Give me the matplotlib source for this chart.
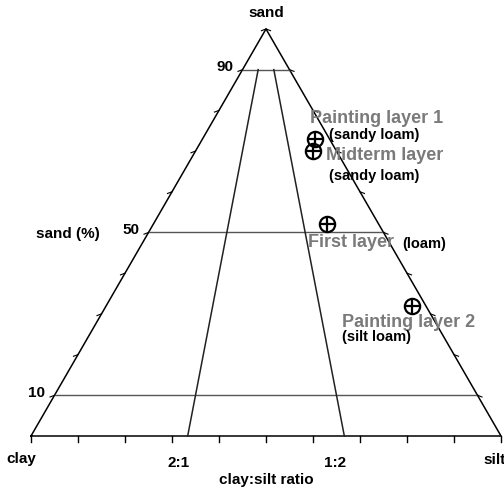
import numpy as np
import matplotlib
matplotlib.use("Agg")
import matplotlib.pyplot as plt

plt.rcParams['font.family'] = ['Liberation Sans', 'DejaVu Sans']

# sample compositions (%)
names = ["Painting layer 1", "Midterm layer", "First layer", "Painting layer 2"]
textures = ["(sandy loam)", "(sandy loam)", "(loam)", "(silt loam)"]
sand = [73, 70, 52, 32]
clay = [3, 5, 11, 3]
silt = [24, 25, 37, 65]

sand_lines = [90, 50, 10]
ratio_lines = [2 / 3, 1 / 3]   # clay fraction of clay+silt (2:1, 1:2)
ratio_labels = ["2:1", "1:2"]

H = np.sqrt(3) / 2


def xy(s, c, t):
    s, c, t = np.asarray(s) / 100, np.asarray(c) / 100, np.asarray(t) / 100
    return t + s / 2, s * H


fig = plt.figure(figsize=(5.04, 4.92), dpi=100)
ax = fig.add_axes([0, 0, 1, 1])
ax.set_xlim(-31 / 470, 473 / 470)
ax.set_ylim(-56 / 470, 436 / 470)
ax.axis('off')

# triangle outline
ax.plot([0, 0.5, 1, 0], [0, H, 0, 0], color='black', lw=1.1)

# sand level lines
for s in sand_lines:
    x0, y0 = xy(s, 100 - s, 0)
    x1, y1 = xy(s, 0, 100 - s)
    ax.plot([x0, x1], [y0, y1], color='#555555', lw=1.0)

# clay:silt ratio lines, from base up to sand 90
for r in ratio_lines:
    xb, yb = xy(0, r * 100, (1 - r) * 100)
    xt, yt = xy(90, r * 10, (1 - r) * 10)
    ax.plot([xb, xt], [yb, yt], color='#222222', lw=1.1)

# ticks
tl = 0.012
for k in range(0, 101, 10):
    ax.plot([k / 100, k / 100], [0, -tl], color='black', lw=1.0)
for k in range(10, 101, 10):
    xl, yl = xy(k, 100 - k, 0)
    ax.plot([xl, xl - tl * 0.8], [yl, yl - tl * 0.3], color='black', lw=0.8)
    xr, yr = xy(k, 0, 100 - k)
    ax.plot([xr, xr + tl * 0.8], [yr, yr - tl * 0.3], color='black', lw=0.8)

tk = dict(fontsize=11, fontweight='bold', color='black')
ax.text(0.5, H + 0.035, "sand", ha='center', va='center', **tk)
for s in sand_lines:
    xl, yl = xy(s, 100 - s, 0)
    ax.text(xl - 0.02, yl + 0.005, str(s), ha='right', va='center', **tk)
ax.text(0.078, 0.43, "sand (%)", ha='center', va='center', **tk)
ax.text(-0.02, -0.05, "clay", ha='center', va='center', **tk)
ax.text(0.962, -0.05, "silt", ha='left', va='center', **tk)
for r, lab in zip(ratio_lines, ratio_labels):
    ax.text(1 - r - 0.02, -0.058, lab, ha='center', va='center', **tk)
ax.text(0.5, -0.093, "clay:silt ratio", ha='center', va='center', **tk)

# sample points
px, py = xy(sand, clay, silt)
ax.plot(px, py, 'o', ms=11, mfc='none', mec='black', mew=1.6)
ax.plot(px, py, '+', ms=11, color='black', mew=1.6)

# annotations (offsets in pixels from the point)
name_off = [(-5, 20), (13, -4), (-19, -18), (-70, -17)]
tex_off = [(14, 4), (16, -25), (75, -20), (-70, -31)]
for i in range(len(names)):
    ax.annotate(names[i], (px[i], py[i]), xytext=name_off[i], textcoords='offset pixels',
                fontsize=13, fontweight='bold', color='#7a7a7a', ha='left', va='center')
    ax.annotate(textures[i], (px[i], py[i]), xytext=tex_off[i], textcoords='offset pixels',
                fontsize=10.5, fontweight='bold', color='black', ha='left', va='center')

fig.savefig("out.png", dpi=100)
